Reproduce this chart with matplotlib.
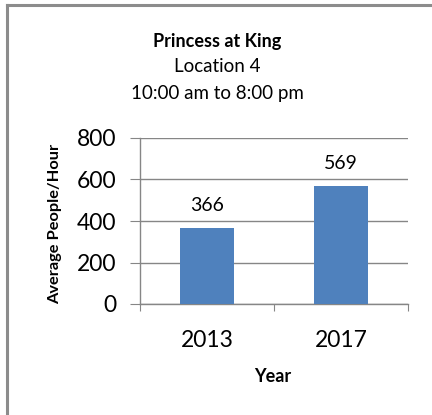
import matplotlib
matplotlib.use("Agg")
import matplotlib.pyplot as plt
from matplotlib.lines import Line2D

categories = ["2013", "2017"]
values = [366, 569]
yticks = [0, 200, 400, 600, 800]

W, H = 432, 415
fig = plt.figure(figsize=(W/100, H/100), dpi=100)
fig.patch.set_facecolor("white")
font = "Lato"

# frame border lines (left and top)
fig.add_artist(Line2D([7/W, 7/W], [0, 1 - 5/H], color="#8c8c8c", lw=2.2))
fig.add_artist(Line2D([7/W, 1], [1 - 5/H, 1 - 5/H], color="#8c8c8c", lw=2.2))

left, right, top, bottom = 140, 408, 138, 304
ax = fig.add_axes([left/W, 1 - bottom/H, (right-left)/W, (bottom-top)/H])

x = range(len(categories))
ax.bar(x, values, width=0.4, color="#4F81BD", zorder=3)
ax.set_xlim(-0.5, len(categories) - 0.5)
ax.set_ylim(0, 800)
ax.set_yticks(yticks)
ax.set_yticklabels([str(v) for v in yticks], fontsize=16.5, family=font)
ax.set_xticks([-0.5, 0.5, 1.5])
ax.set_xticklabels([])
ax.set_xticks(list(x), minor=True)
ax.set_xticklabels(categories, minor=True, fontsize=16.5, family=font)
ax.tick_params(axis="x", which="minor", length=0, pad=19)
ax.tick_params(axis="x", which="major", length=5, direction="out", color="#868686")
ax.tick_params(axis="y", length=7, direction="out", color="#868686", pad=10)
ax.grid(axis="y", color="#868686", lw=1, zorder=0)
for s in ["top", "right"]:
    ax.spines[s].set_visible(False)
for s in ["left", "bottom"]:
    ax.spines[s].set_color("#868686")
    ax.spines[s].set_linewidth(1)

for xi, v in zip(x, values):
    ax.annotate(str(v), (xi, v), xytext=(0, 10), textcoords="offset points",
                ha="center", va="bottom", fontsize=14, family=font)

fig.text(273/W, 1 - 377/H, "Year", ha="center", va="center",
         fontsize=13, fontweight="bold", family=font)
fig.text(55/W, 1 - 224/H, "Average People/Hour", ha="center", va="center", rotation=90,
         fontsize=11.8, fontweight="bold", family=font)

fig.text(217/W, 1 - 42/H, "Princess at King", ha="center", va="center",
         fontsize=13, fontweight="bold", family=font)
fig.text(217/W, 1 - 66/H, "Location 4", ha="center", va="center", fontsize=13.5, family=font)
fig.text(217/W, 1 - 93/H, "10:00 am to 8:00 pm", ha="center", va="center", fontsize=13.5, family=font)

fig.savefig("out.png", dpi=100, facecolor="white")
